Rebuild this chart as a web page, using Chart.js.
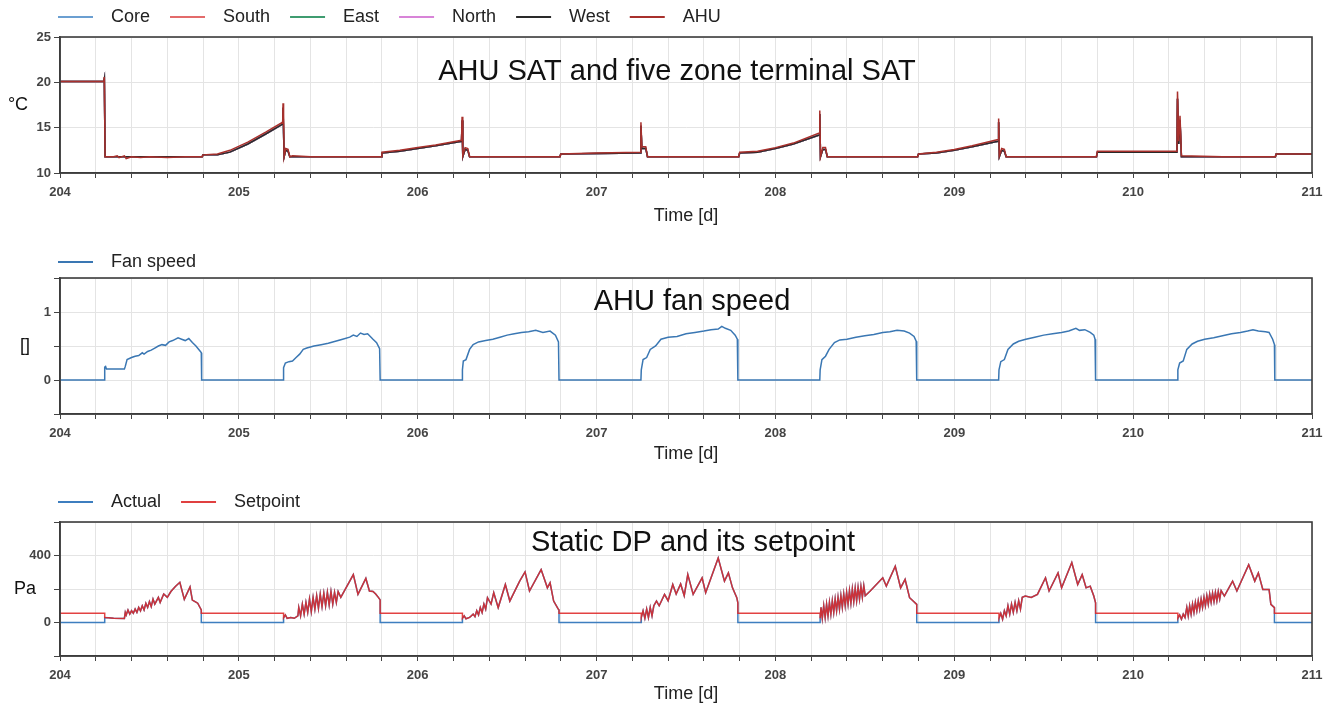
<!DOCTYPE html>
<html>
<head>
<meta charset="utf-8">
<script src="https://cdn.jsdelivr.net/npm/chart.js@4.4.1/dist/chart.umd.min.js"></script>
<style>
  body { margin: 0; background: #fff; }
  .panel { position: absolute; left: 0; }
</style>
</head>
<body>
<div class="panel" style="top:0px"><canvas id="satChart" width="1335" height="236"></canvas></div>
<div class="panel" style="top:236px"><canvas id="fanChart" width="1335" height="238"></canvas></div>
<div class="panel" style="top:474px"><canvas id="dpChart" width="1335" height="236"></canvas></div>
<script>
// x range (days) and tick spacing
const dayMin = 204, dayMax = 211, dayStep = 0.2;

/* AHU supply air temperature [degC], [day, value] */
const satAhu = [
  [204.0, 20.1], [204.245, 20.1], [204.248, 20.6], [204.252, 11.8], [204.3, 11.8], [204.32, 11.9], [204.33, 11.7],
  [204.36, 11.9], [204.37, 11.6], [204.4, 11.8], [204.45, 11.7], [204.5, 11.8], [204.6, 11.7], [204.7, 11.8],
  [204.795, 11.8], [204.8, 12.0], [204.88, 12.1], [204.95, 12.5], [205.05, 13.4], [205.15, 14.5], [205.245, 15.6],
  [205.247, 17.7], [205.25, 16.5], [205.253, 11.8], [205.262, 12.7], [205.275, 12.6], [205.285, 11.8], [205.3, 11.9],
  [205.4, 11.8], [205.6, 11.8], [205.795, 11.8], [205.8, 12.3], [205.9, 12.5], [206.0, 12.8], [206.1, 13.1],
  [206.245, 13.6], [206.248, 16.2], [206.252, 11.9], [206.265, 12.8], [206.28, 12.7], [206.29, 11.8], [206.5, 11.8],
  [206.795, 11.8], [206.8, 12.1], [207.0, 12.2], [207.245, 12.3], [207.248, 15.6], [207.253, 12.9], [207.275, 12.9],
  [207.285, 11.8], [207.5, 11.8], [207.795, 11.8], [207.8, 12.3], [207.9, 12.4], [208.0, 12.8], [208.1, 13.3],
  [208.245, 14.4], [208.248, 16.9], [208.252, 11.8], [208.265, 12.8], [208.28, 12.8], [208.29, 11.8], [208.5, 11.8],
  [208.795, 11.8], [208.8, 12.1], [208.9, 12.3], [209.0, 12.6], [209.1, 13.0], [209.245, 13.7], [209.248, 16.0],
  [209.252, 11.9], [209.265, 12.7], [209.28, 12.6], [209.29, 11.8], [209.5, 11.8], [209.795, 11.8], [209.8, 12.4],
  [210.245, 12.4], [210.248, 19.0], [210.255, 13.5], [210.262, 16.3], [210.27, 11.9], [210.5, 11.8], [210.795, 11.8],
  [210.8, 12.1], [211.0, 12.1]
];

/* zone terminal supply air temperature [degC] */
const satZone = [
  [204.0, 20.1], [204.245, 20.1], [204.248, 20.4], [204.252, 11.8], [204.795, 11.8], [204.8, 12.0], [204.88, 12.0],
  [204.95, 12.3], [205.05, 13.2], [205.15, 14.3], [205.245, 15.4], [205.247, 17.2], [205.253, 11.8], [205.262, 12.5],
  [205.275, 12.4], [205.285, 11.8], [205.795, 11.8], [205.8, 12.2], [205.9, 12.4], [206.0, 12.7], [206.1, 13.0],
  [206.245, 13.5], [206.248, 15.8], [206.252, 11.8], [206.265, 12.6], [206.28, 12.5], [206.29, 11.8], [206.795, 11.8],
  [206.8, 12.1], [207.245, 12.2], [207.248, 15.2], [207.253, 12.7], [207.275, 12.7], [207.285, 11.8], [207.795, 11.8],
  [207.8, 12.2], [207.9, 12.3], [208.0, 12.7], [208.1, 13.2], [208.245, 14.2], [208.248, 16.5], [208.252, 11.8],
  [208.265, 12.6], [208.28, 12.6], [208.29, 11.8], [208.795, 11.8], [208.8, 12.1], [208.9, 12.2], [209.0, 12.5],
  [209.1, 12.9], [209.245, 13.5], [209.248, 15.6], [209.252, 11.8], [209.265, 12.5], [209.28, 12.4], [209.29, 11.8],
  [209.795, 11.8], [209.8, 12.3], [210.245, 12.3], [210.248, 18.2], [210.255, 13.2], [210.262, 15.8], [210.27, 11.8],
  [210.795, 11.8], [210.8, 12.1], [211.0, 12.1]
];

/* AHU fan speed [-] */
const fanSpeed = [
  [204.0, 0], [204.248, 0], [204.25, 0.19], [204.255, 0.2], [204.26, 0.16], [204.36, 0.16], [204.365, 0.2], [204.375, 0.3],
  [204.4, 0.33], [204.42, 0.35], [204.44, 0.36], [204.46, 0.4], [204.47, 0.38], [204.49, 0.42], [204.51, 0.44],
  [204.53, 0.47], [204.55, 0.5], [204.57, 0.52], [204.59, 0.51], [204.61, 0.56], [204.63, 0.58], [204.66, 0.62],
  [204.68, 0.6], [204.7, 0.58], [204.72, 0.61], [204.74, 0.55], [204.76, 0.5], [204.785, 0.42], [204.79, 0.4], [204.792, 0],
  [205.248, 0], [205.25, 0.18], [205.26, 0.25], [205.28, 0.27], [205.3, 0.28], [205.32, 0.33], [205.34, 0.38],
  [205.36, 0.45], [205.38, 0.47], [205.42, 0.5], [205.46, 0.52], [205.5, 0.54], [205.54, 0.57], [205.58, 0.6],
  [205.62, 0.63], [205.64, 0.66], [205.66, 0.64], [205.68, 0.69], [205.7, 0.67], [205.72, 0.68], [205.75, 0.6],
  [205.77, 0.55], [205.787, 0.46], [205.79, 0],
  [206.248, 0], [206.25, 0.15], [206.255, 0.28], [206.27, 0.3], [206.29, 0.45], [206.31, 0.52], [206.34, 0.56],
  [206.38, 0.58], [206.42, 0.6], [206.46, 0.63], [206.5, 0.66], [206.54, 0.68], [206.58, 0.7], [206.62, 0.71],
  [206.66, 0.73], [206.7, 0.7], [206.74, 0.72], [206.77, 0.66], [206.787, 0.56], [206.79, 0],
  [207.248, 0], [207.25, 0.15], [207.26, 0.3], [207.28, 0.33], [207.3, 0.45], [207.33, 0.5], [207.36, 0.6],
  [207.4, 0.63], [207.45, 0.64], [207.5, 0.68], [207.55, 0.7], [207.6, 0.72], [207.64, 0.74], [207.68, 0.75],
  [207.7, 0.79], [207.72, 0.76], [207.75, 0.73], [207.775, 0.66], [207.787, 0.6], [207.79, 0],
  [208.248, 0], [208.25, 0.15], [208.26, 0.3], [208.28, 0.35], [208.3, 0.45], [208.33, 0.55], [208.36, 0.59],
  [208.4, 0.6], [208.45, 0.63], [208.5, 0.65], [208.55, 0.67], [208.6, 0.7], [208.64, 0.71], [208.68, 0.73],
  [208.72, 0.72], [208.75, 0.69], [208.775, 0.64], [208.787, 0.57], [208.79, 0],
  [209.248, 0], [209.25, 0.15], [209.26, 0.27], [209.28, 0.3], [209.3, 0.45], [209.33, 0.53], [209.36, 0.57],
  [209.4, 0.6], [209.45, 0.63], [209.5, 0.66], [209.55, 0.68], [209.6, 0.7], [209.64, 0.72], [209.68, 0.76],
  [209.7, 0.73], [209.73, 0.74], [209.76, 0.7], [209.78, 0.66], [209.787, 0.6], [209.79, 0],
  [210.248, 0], [210.25, 0.15], [210.26, 0.25], [210.28, 0.28], [210.3, 0.45], [210.33, 0.53], [210.36, 0.57],
  [210.4, 0.6], [210.45, 0.62], [210.5, 0.65], [210.55, 0.68], [210.6, 0.7], [210.64, 0.72], [210.67, 0.74],
  [210.7, 0.72], [210.74, 0.71], [210.76, 0.7], [210.78, 0.6], [210.79, 0.52], [210.792, 0], [211.0, 0]
];

/* duct static pressure while the fan runs [Pa] (actual follows setpoint) */
const dp204 = [
  [204.25, 30], [204.27, 28], [204.3, 25], [204.36, 24], [204.365, 60], [204.37, 45], [204.38, 75], [204.39, 50],
  [204.4, 70], [204.41, 55], [204.42, 80], [204.43, 60], [204.44, 90], [204.45, 70], [204.46, 100], [204.47, 75],
  [204.48, 115], [204.49, 90], [204.5, 125], [204.51, 95], [204.52, 140], [204.53, 110], [204.55, 150], [204.56, 120],
  [204.58, 170], [204.6, 150], [204.62, 185], [204.645, 215], [204.67, 240], [204.695, 138], [204.727, 212],
  [204.74, 134], [204.755, 125], [204.77, 115], [204.785, 85], [204.79, 75]
];
const dp205 = [
  [205.25, 28], [205.26, 45], [205.27, 25], [205.29, 30], [205.31, 25], [205.33, 40], [205.335, 90], [205.345, 40],
  [205.355, 110], [205.365, 50], [205.375, 120], [205.385, 60], [205.395, 140], [205.405, 65], [205.415, 150],
  [205.425, 80], [205.435, 160], [205.445, 85], [205.455, 170], [205.465, 95], [205.475, 175], [205.485, 100],
  [205.495, 180], [205.505, 105], [205.515, 185], [205.525, 110], [205.535, 180], [205.545, 120], [205.555, 185],
  [205.57, 150], [205.64, 286], [205.666, 168], [205.71, 263], [205.73, 188], [205.75, 185], [205.765, 170],
  [205.78, 150], [205.79, 135]
];
const dp206 = [
  [206.25, 25], [206.26, 40], [206.27, 22], [206.29, 30], [206.31, 50], [206.32, 35], [206.33, 70], [206.34, 45],
  [206.35, 89], [206.36, 60], [206.37, 110], [206.38, 80], [206.39, 148], [206.41, 110], [206.425, 178], [206.45, 89],
  [206.49, 227], [206.515, 128], [206.57, 247], [206.6, 302], [206.625, 188], [206.69, 316], [206.725, 207],
  [206.74, 237], [206.76, 128], [206.785, 81], [206.79, 75]
];
const dp207 = [
  [207.25, 30], [207.26, 70], [207.27, 25], [207.28, 80], [207.29, 30], [207.3, 90], [207.31, 40], [207.32, 100],
  [207.335, 128], [207.35, 100], [207.38, 168], [207.4, 130], [207.426, 227], [207.445, 170], [207.47, 230],
  [207.49, 160], [207.51, 286], [207.54, 168], [207.59, 267], [207.61, 178], [207.68, 385], [207.715, 247],
  [207.737, 296], [207.76, 207], [207.784, 148], [207.79, 118]
];
const dp208 = [
  [208.25, 25], [208.255, 90], [208.262, 25], [208.27, 100], [208.278, 30], [208.286, 110], [208.294, 40],
  [208.302, 120], [208.31, 50], [208.318, 130], [208.326, 60], [208.334, 140], [208.342, 70], [208.35, 150],
  [208.358, 80], [208.366, 160], [208.374, 90], [208.382, 170], [208.39, 100], [208.398, 180], [208.406, 110],
  [208.414, 190], [208.422, 115], [208.43, 200], [208.438, 125], [208.446, 205], [208.454, 130], [208.462, 210],
  [208.47, 140], [208.478, 215], [208.486, 150], [208.494, 220], [208.502, 160], [208.53, 188], [208.6, 267],
  [208.62, 217], [208.67, 336], [208.7, 207], [208.725, 257], [208.75, 148], [208.77, 128], [208.79, 108]
];
const dp209 = [
  [209.25, 25], [209.26, 55], [209.27, 20], [209.28, 70], [209.29, 40], [209.3, 100], [209.31, 50], [209.32, 110],
  [209.33, 60], [209.34, 120], [209.35, 70], [209.36, 130], [209.37, 80], [209.38, 150], [209.397, 158],
  [209.43, 150], [209.465, 168], [209.51, 267], [209.53, 188], [209.58, 296], [209.6, 207], [209.657, 358],
  [209.69, 227], [209.715, 286], [209.737, 207], [209.76, 217], [209.78, 158], [209.79, 118]
];
const dp210 = [
  [210.25, 25], [210.26, 45], [210.27, 20], [210.28, 50], [210.29, 30], [210.3, 90], [210.308, 40], [210.316, 100],
  [210.324, 50], [210.332, 110], [210.34, 60], [210.348, 120], [210.356, 70], [210.364, 130], [210.372, 80],
  [210.38, 140], [210.388, 90], [210.396, 150], [210.404, 100], [210.412, 160], [210.42, 110], [210.428, 170],
  [210.436, 120], [210.444, 175], [210.452, 125], [210.46, 180], [210.468, 130], [210.476, 185], [210.484, 140],
  [210.492, 190], [210.51, 158], [210.556, 247], [210.58, 188], [210.646, 345], [210.68, 247], [210.7, 296],
  [210.725, 197], [210.76, 197], [210.77, 108], [210.79, 89]
];
const dpDays = [dp204, dp205, dp206, dp207, dp208, dp209, dp210];
// values while the fan is off
const dpSetNight = 55, dpActNight = 0;

const satLabels = ['Core', 'South', 'East', 'North', 'West', 'AHU'];
const satColors = ['#6b9fd1', '#e36b6b', '#3f9c70', '#d884d8', '#2a2a2a', '#a8302c'];

Chart.defaults.font.family = '"Liberation Sans", Arial, sans-serif';
Chart.defaults.color = '#333';

function toXY(pairs) {
  return pairs.map(p => ({ x: p[0], y: p[1] }));
}

function buildDp(nightVal) {
  const pts = [{ x: dayMin, y: nightVal }];
  dpDays.forEach(day => {
    pts.push({ x: day[0][0], y: nightVal });
    day.forEach(p => pts.push({ x: p[0], y: p[1] }));
    pts.push({ x: day[day.length - 1][0], y: nightVal });
  });
  pts.push({ x: dayMax, y: nightVal });
  return pts;
}

// legend drawn as a short line + label, plus frame, title and unit label
const decor = {
  id: 'decor',
  afterDraw(chart, args, o) {
    const ctx = chart.ctx, a = chart.chartArea;
    ctx.save();
    ctx.strokeStyle = '#3c3c3c';
    ctx.lineWidth = 1.6;
    ctx.strokeRect(a.left, a.top, a.right - a.left, a.bottom - a.top);

    ctx.textBaseline = 'middle';
    ctx.fillStyle = '#111';
    ctx.font = '29px "Liberation Sans", Arial, sans-serif';
    ctx.textAlign = 'center';
    ctx.fillText(o.title, o.titleX, o.titleY);

    ctx.font = '18px "Liberation Sans", Arial, sans-serif';
    ctx.fillText(o.unit, o.unitX, (a.top + a.bottom) / 2);

    ctx.textAlign = 'left';
    let x = 58;
    chart.data.datasets.forEach(ds => {
      ctx.strokeStyle = ds.legendColor || ds.borderColor;
      ctx.lineWidth = 2;
      ctx.beginPath();
      ctx.moveTo(x, o.legendY);
      ctx.lineTo(x + 35, o.legendY);
      ctx.stroke();
      ctx.fillStyle = '#222';
      ctx.fillText(ds.label, x + 53, o.legendY);
      x += 53 + ctx.measureText(ds.label).width + 20;
    });
    ctx.restore();
  }
};

function makeChart(id, datasets, y, lay) {
  return new Chart(document.getElementById(id), {
    type: 'line',
    data: { datasets: datasets },
    plugins: [decor],
    options: {
      responsive: false,
      animation: false,
      devicePixelRatio: 1,
      layout: { padding: { left: 0, right: 23, top: lay.top, bottom: 0 } },
      elements: { point: { radius: 0 }, line: { borderWidth: 1.5, tension: 0 } },
      plugins: {
        legend: { display: false },
        tooltip: { enabled: false },
        decor: lay.decor
      },
      scales: {
        x: {
          type: 'linear',
          min: dayMin,
          max: dayMax,
          afterFit: s => { s.height = lay.xHeight; s.paddingLeft = 0; s.paddingRight = 0; },
          ticks: {
            stepSize: dayStep,
            autoSkip: false,
            maxRotation: 0,
            padding: 7,
            font: { size: 13, weight: 'bold' },
            color: '#444',
            callback: v => Math.abs(v - Math.round(v)) < 1e-6 ? String(Math.round(v)) : ''
          },
          grid: { color: '#e4e4e4', tickColor: '#444', tickLength: 5 },
          border: { color: '#3c3c3c', width: 1.6 },
          title: { display: true, text: 'Time [d]', font: { size: 18 }, color: '#222', padding: { top: 0, bottom: lay.titlePad } }
        },
        y: {
          min: y.min,
          max: y.max,
          afterFit: s => { s.width = 60; s.paddingTop = 0; s.paddingBottom = 0; },
          ticks: {
            stepSize: y.step,
            padding: 3,
            font: { size: 13, weight: 'bold' },
            color: '#444',
            callback: y.label
          },
          grid: { color: '#e4e4e4', tickColor: '#444', tickLength: 6 },
          border: { color: '#3c3c3c', width: 1.6 }
        }
      }
    }
  });
}

// AHU SAT and zone terminal SAT; AHU drawn on top, West just below it
makeChart('satChart', satLabels.map((lab, i) => ({
  label: lab,
  data: toXY(lab === 'AHU' ? satAhu : satZone),
  borderColor: satColors[i],
  order: satLabels.length - 1 - i
})), {
  min: 10, max: 25, step: 5, label: v => v
}, {
  top: 37, xHeight: 63, titlePad: 9,
  decor: { title: 'AHU SAT and five zone terminal SAT', titleX: 677, titleY: 72, unit: '°C', unitX: 18, legendY: 17 }
});

makeChart('fanChart', [{
  label: 'Fan speed',
  data: toXY(fanSpeed),
  borderColor: '#3a77b3'
}], {
  min: -0.5, max: 1.5, step: 0.5, label: v => (v === 0 || v === 1) ? String(v) : ''
}, {
  top: 42, xHeight: 60, titlePad: 9,
  decor: { title: 'AHU fan speed', titleX: 692, titleY: 66, unit: '[]', unitX: 25, legendY: 26 }
});

makeChart('dpChart', [{
  label: 'Actual',
  data: buildDp(dpActNight),
  borderColor: '#3d7ebf',
  order: 1
}, {
  label: 'Setpoint',
  data: buildDp(dpSetNight),
  borderColor: 'rgba(222, 40, 40, 0.88)',
  legendColor: '#e04040',
  order: 0
}], {
  min: -200, max: 600, step: 200, label: v => (v === 0 || v === 400) ? String(v) : ''
}, {
  top: 48, xHeight: 54, titlePad: 5,
  decor: { title: 'Static DP and its setpoint', titleX: 693, titleY: 69, unit: 'Pa', unitX: 25, legendY: 28 }
});
</script>
</body>
</html>
